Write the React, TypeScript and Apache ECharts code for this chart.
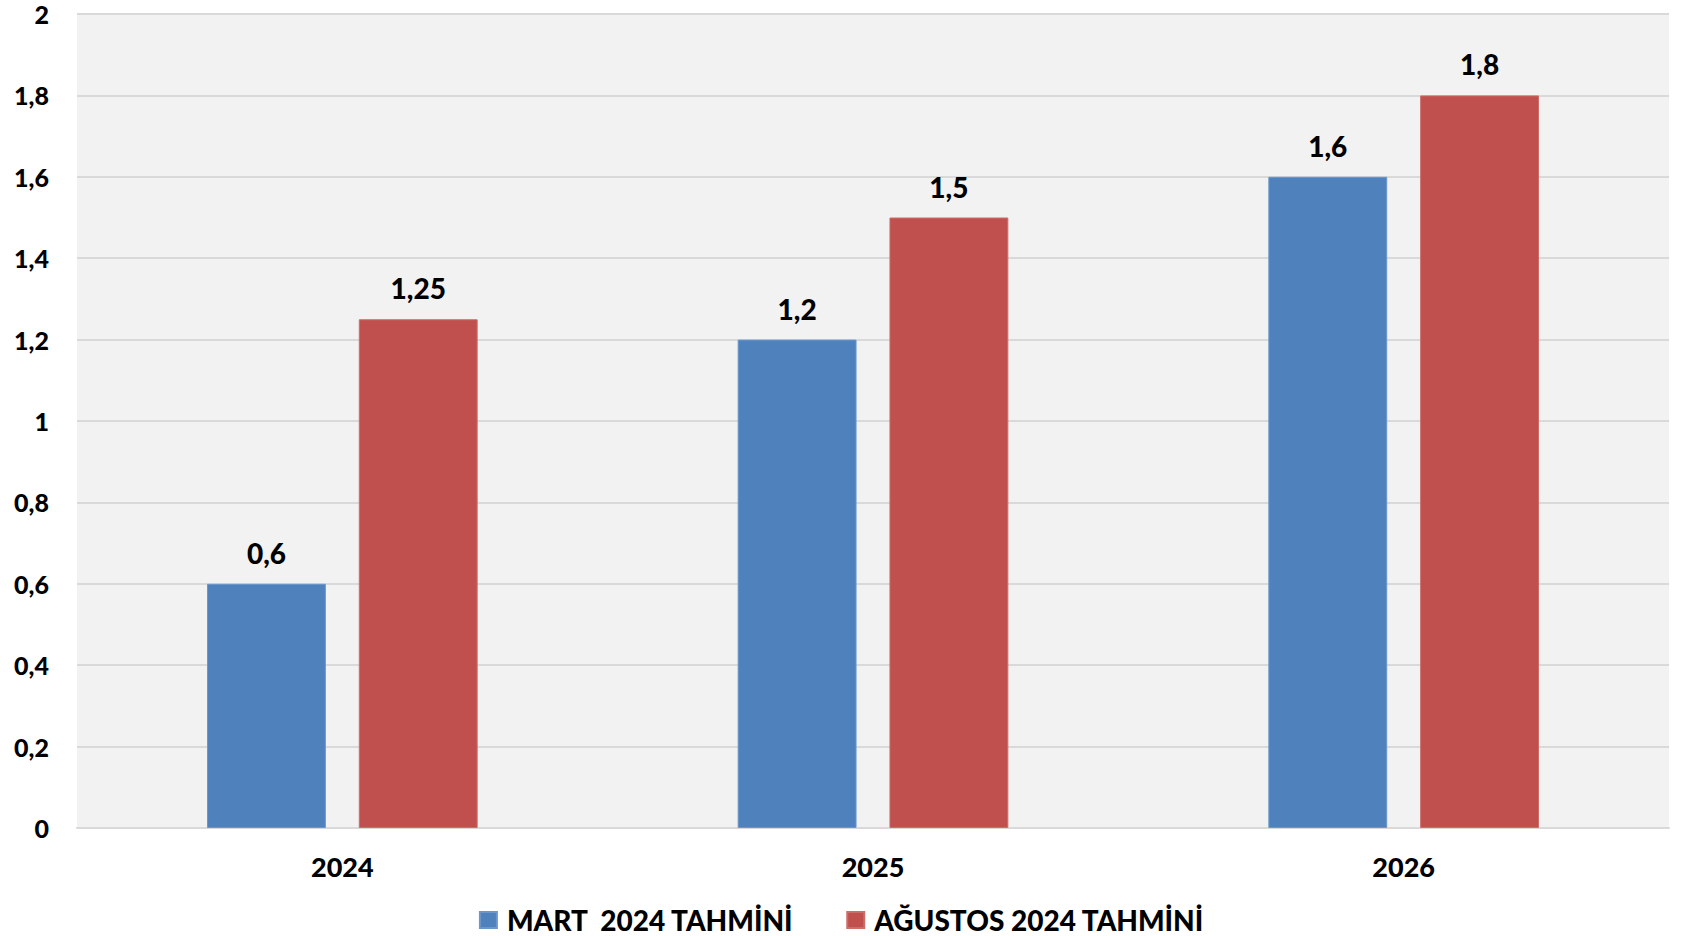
import React, { useEffect, useRef } from "react";
import * as echarts from "echarts";

const categories = ["2024", "2025", "2026"];
const seriesNames = ["MART  2024 TAHMİNİ", "AĞUSTOS 2024 TAHMİNİ"];
const martValues = [0.6, 1.2, 1.6];
const agustosValues = [1.25, 1.5, 1.8];
const yMin = 0;
const yMax = 2;
const yInterval = 0.2;

const fmt = (v: number) => String(Math.round(v * 100) / 100).replace(".", ",");

export default function App() {
  const ref = useRef<HTMLDivElement>(null);
  useEffect(() => {
    document.body.style.margin = "0";
    if (!ref.current) return;
    const chart = echarts.init(ref.current, undefined, { renderer: "svg" });
    const font = "Lato, 'Open Sans', sans-serif";
    const weight = 900;
    const labelCfg = {
      show: true,
      position: "top",
      distance: 17,
      fontFamily: font,
      fontWeight: weight,
      fontSize: 28,
      color: "#000",
      formatter: (p: any) => fmt(p.value),
    };
    chart.setOption({
      animation: false,
      backgroundColor: "#ffffff",
      grid: {
        left: 77,
        right: 14,
        top: 14,
        bottom: 108,
        show: true,
        backgroundColor: "#f2f2f2",
        borderWidth: 0,
      },
      legend: {
        top: 899,
        left: "center",
        itemWidth: 17,
        itemHeight: 16,
        itemGap: 52,
        icon: "rect",
        data: seriesNames,
        textStyle: {
          fontFamily: font,
          fontWeight: weight,
          fontSize: 28,
          color: "#000",
          lineHeight: 32,
          padding: [0, 0, 0, 5],
        },
      },
      xAxis: {
        type: "category",
        data: categories,
        axisLine: { show: true, lineStyle: { color: "#d9d9d9", width: 2 } },
        axisTick: { show: false },
        axisLabel: {
          margin: 25,
          fontFamily: font,
          fontWeight: weight,
          fontSize: 27,
          color: "#000",
        },
      },
      yAxis: {
        type: "value",
        min: yMin,
        max: yMax,
        interval: yInterval,
        axisLine: { show: false },
        axisTick: { show: false },
        splitLine: { show: true, lineStyle: { color: "#d9d9d9", width: 2 } },
        axisLabel: {
          margin: 28,
          fontFamily: font,
          fontWeight: weight,
          fontSize: 25,
          lineHeight: 24,
          color: "#000",
          formatter: (v: number) => fmt(v),
        },
      },
      series: [
        {
          name: seriesNames[0],
          type: "bar",
          data: martValues,
          barWidth: "22.4%",
          barGap: "27.7%",
          itemStyle: { color: "#4f81bd", borderColor: "#6b97cc", borderWidth: 1 },
          label: labelCfg,
        },
        {
          name: seriesNames[1],
          type: "bar",
          data: agustosValues,
          barWidth: "22.4%",
          itemStyle: { color: "#c0504d", borderColor: "#cc6d6a", borderWidth: 1 },
          label: labelCfg,
        },
      ],
    });
    return () => chart.dispose();
  }, []);
  return (
    <div
      ref={ref}
      style={{ position: "absolute", left: 0, top: 0, width: 1683, height: 936 }}
    />
  );
}
